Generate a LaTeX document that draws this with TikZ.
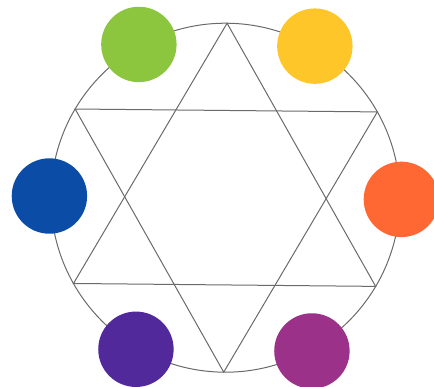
\documentclass[tikz,border=0pt]{standalone}
\usepackage{xcolor}
\definecolor{hexgreen}{HTML}{8CC63F}
\definecolor{hexyellow}{HTML}{FFC62A}
\definecolor{hexorange}{HTML}{FF6733}
\definecolor{hexblue}{HTML}{0B4DA6}
\definecolor{hexviolet}{HTML}{52299B}
\definecolor{hexmagenta}{HTML}{9C3189}
\definecolor{hexline}{HTML}{6A6A6A}
\usepackage{tikz}
\usetikzlibrary{positioning,calc}
\tikzset{
  hexdot/.style={circle,inner sep=0pt,minimum size=75.4pt,fill=#1},
  hexedge/.style={draw=hexline,line width=1pt,line join=miter},
}
\begin{document}
\begin{tikzpicture}[x=1pt,y=1pt]
 % colour wheel with hexagram
\useasboundingbox (0,0) rectangle (434,386);
\clip (0,0) rectangle (434,386);
\begin{scope}[shift={(225.4,188.3)},rotate=-0.55]
\coordinate (o) at (0,0);
\coordinate (t1) at (90:174.5);
\coordinate (t2) at (210:174.5);
\coordinate (t3) at (330:174.5);
\coordinate (u1) at (270:174.5);
\coordinate (u2) at (30:174.5);
\coordinate (u3) at (150:174.5);
\draw[hexedge] (o) circle[radius=174.5];
\draw[hexedge] (t1)--(t2)--(t3)--cycle;
\draw[hexedge] (u1)--(u2)--(u3)--cycle;
\node[hexdot=hexorange] (orange) at (0:176){};
\node[hexdot=hexyellow] (yellow) at (60:176){};
\node[hexdot=hexgreen] (green) at (120:176){};
\node[hexdot=hexblue] (blue) at (180:176){};
\node[hexdot=hexviolet] (violet) at (240:176){};
\node[hexdot=hexmagenta] (magenta) at (300:176){};
\end{scope}
\end{tikzpicture}
\end{document}
